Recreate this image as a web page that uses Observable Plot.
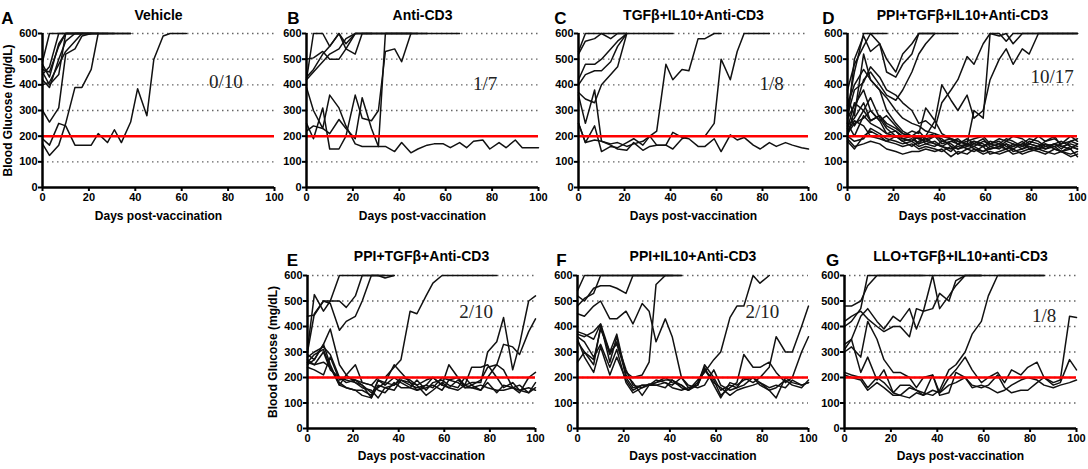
<!DOCTYPE html>
<html><head><meta charset="utf-8">
<script src="https://cdn.jsdelivr.net/npm/d3@7"></script>
<script src="https://cdn.jsdelivr.net/npm/@observablehq/plot@0.6"></script>
<style>
body{margin:0;background:#fff;}
#chart{position:relative;width:1088px;height:469px;overflow:hidden;background:#fff;}
#chart svg{position:absolute;overflow:visible;}
</style></head><body><div id="chart"></div>
<script>
// measurement days (twice weekly)
const days = [0,3,7,10,14,17,21,24,28,31,34,38,41,45,48,52,55,59,62,66,69,72,76,79,83,86,90,93,97,100];
const yTicks = [0,100,200,300,400,500,600];
const xTicks = [0,20,40,60,80,100];
const gridLevels = [100,200,300,400,500,600];
const thresholdLevel = [200];

// A: Vehicle
const vehicle = [
  [490,600,600,600,600,600,600,600,600,600,600,600],
  [480,430,560,600,600,600],
  [460,450,550,600,600,600,600,600],
  [420,390,500,570,600,600,600],
  [400,410,480,530,570,600,600],
  [440,470,600,600,600,600,600,600,600,600],
  [300,255,310,520,540,590,600,600],
  [190,165,250,240,165,165,165,210,175,225,175,255,385,280,500,590,600,600,600],
  [170,125,165,250,390,390,460,600,600,600,600,600],
  [450,400,440,600,600,600,600,600,600]
];
// B: Anti-CD3
const antiCD3 = [
  [420,600,600,550,600,540,520,600,600,600,600,600,600,600,600],
  [500,505,530,500,500,540,600,600,600],
  [430,460,520,550,600,560,600,600,600,600,600,600,600,600],
  [420,450,490,520,540,580,600,600,600,600,600,600,600,600,600,600,600,600,600,600],
  [390,300,230,360,310,240,170,160,160,160,160,140,175,135,150,165,170,170,155,175,155,180,185,150,175,155,185,155,155,155],
  [250,190,310,150,150,200,360,270,260,300,530,540,490,600,600,600],
  [220,240,230,210,265,230,190,350,230,160,600,600,600,600]
];
// C: TGFβ+IL10+Anti-CD3
const tgfIl10 = [
  [530,600,600,600,600,600,600,600,600,600,600,600,600],
  [520,570,580,600,580,600,600],
  [420,480,480,500,540,570,600],
  [400,440,455,455,490,550,600],
  [370,345,330,400,440,470,600],
  [250,175,240,140,160,155,175,190,165,200,165,165,215,195,190,160,160,190,140,205,185,195,165,150,175,160,175,165,155,150],
  [360,250,380,180,170,175,160,170,180,200,220,480,420,460,455,580,580,600,600],
  [250,175,185,180,165,150,145,175,145,160,165,165,150,190,200,200,200,250,500,420,530,600,600,600,600]
];
// D: PPI+TGFβ+IL10+Anti-CD3
const ppiTgfIl10 = [
  [300,450,600,600,600,600],
  [380,480,550,600,560,500,450,520,560,600,600,600,600,600,600],
  [250,500,590,530,560,450,430,480,520,600,600,600],
  [200,300,420,450,400,360,340,380,450,520,560,600],
  [280,380,410,470,430,380,360,330,300,250,260,230,330,380,420,510,480,560,600,600,570,600,600,600,600,600,600,600,600,600],
  [230,330,300,260,280,240,220,200,220,210,310,260,400,340,300,360,270,300,420,500,540,480,540,520,600,600,600,600,600,600],
  [210,250,270,300,260,210,200,180,190,170,200,260,210,190,180,170,300,270,600,590,600,560,600,600,600,600,600,600,600,600],
  [350,280,520,420,380,300,250,220,200,190,180,170,160,150,160,170,150,140,160,150,170,160,180,150,160,170,150,140,160,150],
  [300,240,300,350,270,230,200,190,180,200,170,160,180,170,150,160,180,170,150,160,150,170,160,180,170,150,160,170,180,170],
  [250,200,280,250,230,210,220,190,200,170,180,200,190,160,150,170,160,180,170,180,160,150,170,190,180,160,170,150,180,190],
  [220,260,240,200,190,180,170,160,170,150,160,150,140,160,130,150,140,160,130,140,150,130,140,150,140,130,150,140,120,130],
  [200,180,190,230,210,190,180,170,180,160,170,180,160,140,170,150,160,140,150,160,170,140,150,160,150,170,160,140,150,120],
  [190,160,170,180,170,150,140,130,140,140,150,140,150,120,140,130,150,130,140,130,140,150,130,140,150,140,130,140,130,140],
  [270,320,380,300,260,280,240,210,200,190,200,210,180,190,170,180,190,200,170,190,180,200,190,170,200,180,190,170,200,180],
  [180,150,200,220,200,180,200,180,160,180,190,170,160,180,170,190,170,160,180,170,190,180,160,170,160,180,200,160,170,160],
  [240,270,330,260,280,250,230,210,200,220,190,200,170,180,190,160,170,190,160,170,150,160,170,160,150,160,170,180,160,150],
  [320,400,460,420,380,350,300,270,250,240,220,210,200,190,180,170,180,160,170,160,180,170,150,170,160,150,170,160,150,170]
];
// E: PPI+TGFβ+Anti-CD3
const ppiTgf = [
  [310,525,460,500,600,600,600,600,600,600,600,600],
  [440,445,500,500,500,475,520,600,600,600,590,600],
  [300,450,500,490,385,420,440,500,600,600,600],
  [250,270,330,390,250,210,250,180,170,200,200,240,270,460,450,520,570,600,600,600,600,600,600,600,600],
  [270,250,300,230,200,180,190,170,140,160,180,170,190,170,160,170,200,170,160,190,170,180,180,300,340,435,230,330,500,520],
  [260,290,310,240,170,160,150,130,120,170,160,150,190,180,150,160,170,150,190,200,160,170,150,200,250,330,320,290,380,430],
  [280,300,320,290,200,190,180,160,150,120,160,170,200,190,170,130,150,180,160,150,170,160,150,180,140,170,160,150,140,180],
  [260,250,260,240,180,160,150,150,130,190,180,250,220,180,170,190,200,170,250,200,170,240,240,250,200,160,180,150,160,150],
  [240,230,210,280,190,200,190,180,170,150,140,180,160,160,150,170,160,200,190,180,160,160,170,160,150,150,160,170,140,160],
  [290,270,330,250,170,210,180,170,120,190,170,200,180,160,190,150,180,190,170,160,200,170,190,240,250,230,160,140,200,220]
];
// F: PPI+IL10+Anti-CD3
const ppiIl10 = [
  [540,600,600,600,600,600,600,600,600,600,600,600,600,600],
  [480,510,530,600,600,600,600,600,600,600,600,600],
  [450,440,480,500,430,430,460,410,490,460,340,430,360,200,170,160,170,230,170,150,160,170,200,180,150,160,190,170,160,190],
  [520,500,550,560,560,550,530,600,600,600,600,600,600],
  [380,370,350,410,300,330,220,200,210,260,565,600,600,600],
  [370,360,380,410,260,360,200,160,170,170,180,190,190,170,150,190,220,270,300,435,480,480,600,570,600],
  [340,300,250,400,290,340,230,170,160,170,190,180,170,200,160,170,250,200,150,170,160,200,180,200,240,360,300,300,400,480],
  [360,340,280,330,240,310,180,140,160,175,170,180,160,150,160,170,230,190,130,160,180,290,240,240,260,220,180,200,300,360],
  [350,280,220,320,210,280,190,150,170,170,170,160,190,160,150,180,240,170,120,180,170,190,200,170,150,120,200,180,170,180],
  [260,300,270,390,300,370,210,180,130,170,180,200,180,170,150,170,230,180,160,130,150,160,170,180,160,170,160,190,170,180]
];
// G: LLO+TGFβ+IL10+anti-CD3
const lloTgfIl10 = [
  [480,480,500,560,600,600,600,600,600,600,600,600,600,600,600,600,600,600,600,600,600,600,600,600,600,600],
  [400,420,470,600,600,600,600,600,600,600,600],
  [420,440,460,430,400,380,400,400,360,470,460,600,470,520,560,600,600,600],
  [330,350,440,470,420,390,440,420,470,390,460,470,530,500,580,600,600,600],
  [310,350,220,280,190,230,140,170,170,150,140,130,150,230,250,300,370,420,520,600,600,600,600,600,600,600],
  [300,320,280,420,350,270,220,220,200,160,200,210,140,200,230,280,230,180,200,220,180,230,210,240,260,200,180,190,440,435],
  [220,210,200,160,200,180,140,130,160,150,130,150,140,170,180,200,160,170,160,140,150,170,190,200,190,170,160,170,180,190],
  [210,200,190,150,180,160,130,130,120,140,130,210,130,140,220,200,170,160,170,210,160,140,150,150,180,200,170,180,270,230]
];

const letters = ["A","B","C","D","E","F","G"];
const titles = ["Vehicle","Anti-CD3","TGFβ+IL10+Anti-CD3","PPI+TGFβ+IL10+Anti-CD3","PPI+TGFβ+Anti-CD3","PPI+IL10+Anti-CD3","LLO+TGFβ+IL10+anti-CD3"];
const ratios = ["0/10","1/7","1/8","10/17","2/10","2/10","1/8"];
const groups = [vehicle, antiCD3, tgfIl10, ppiTgfIl10, ppiTgf, ppiIl10, lloTgfIl10];

// layout (pixel placement of each panel's frame)
const layout = [
  {row:0, x0:42,  x1:274,  letterDx:-35, ratioAt:[79,410], yLabel:true},
  {row:0, x0:306, x1:538,  letterDx:-13, ratioAt:[77,405], yLabel:false},
  {row:0, x0:578, x1:808,  letterDx:-18, ratioAt:[84,405], yLabel:false},
  {row:0, x0:847, x1:1077, letterDx:-19, ratioAt:[89,430], yLabel:false},
  {row:1, x0:307, x1:535,  letterDx:-15, ratioAt:[74,459], yLabel:true},
  {row:1, x0:577, x1:808,  letterDx:-16, ratioAt:[80,459], yLabel:false},
  {row:1, x0:844, x1:1076, letterDx:-12, ratioAt:[86,443], yLabel:false}
];

const chart = document.getElementById("chart");
const sans = "'Liberation Sans', Arial, Helvetica, sans-serif";

layout.forEach((L, k) => {
  const rows = groups[k].flatMap((vals, m) => vals.map((g, i) => ({mouse: m, day: days[i], glucose: g})));
  const top = L.row === 0 ? 0 : 242;
  const mt = 33, ph = L.row === 0 ? 154 : 153, mb = L.row === 0 ? 48 : 41;
  const ml = 42, mr = 10;
  const marks = [
    Plot.ruleY(gridLevels, {stroke: "#666", strokeWidth: 1.4, strokeDasharray: "1.5,3.5"}),
    Plot.line(rows, {x: "day", y: "glucose", z: "mouse", stroke: "#111", strokeWidth: 1.5}),
    Plot.ruleY(thresholdLevel, {stroke: "#ff0000", strokeWidth: 2.5}),
    Plot.ruleX([0], {y1: 0, y2: 600, stroke: "#000", strokeWidth: 2.5}),
    Plot.ruleY([0], {x1: 0, x2: 100, stroke: "#000", strokeWidth: 2.5}),
    Plot.axisX({ticks: xTicks, tickSize: 4, tickPadding: 2, strokeWidth: 2, label: null, fontWeight: "bold", fontSize: 11}),
    Plot.axisY({ticks: yTicks, tickSize: 4, tickPadding: 1, strokeWidth: 2, label: null, fontWeight: "bold", fontSize: 11}),
    Plot.text([titles[k]], {text: d => d, frameAnchor: "top", dy: L.row === 0 ? -23 : -24, fontSize: 14, fontWeight: "bold"}),
    Plot.text([letters[k]], {text: d => d, frameAnchor: "top-left", dx: L.letterDx, dy: -22, fontSize: 17, fontWeight: "bold", textAnchor: "middle"}),
    Plot.text(["Days post-vaccination"], {text: d => d, frameAnchor: "bottom", dy: L.row === 0 ? 32 : 31, fontSize: 12, fontWeight: "bold"}),
    Plot.text([ratios[k]], {text: d => d, x: L.ratioAt[0], y: L.ratioAt[1], fontFamily: "'Liberation Serif', 'Times New Roman', serif", fontSize: 19, fontWeight: "normal", fill: "#222"})
  ];
  if (L.yLabel) marks.push(Plot.text(["Blood Glucose (mg/dL)"], {text: d => d, frameAnchor: "left", dx: -34, rotate: -90, textAnchor: "middle", fontSize: 12, fontWeight: "bold"}));
  const svg = Plot.plot({
    width: ml + (L.x1 - L.x0) + mr,
    height: mt + ph + mb,
    marginLeft: ml, marginRight: mr, marginTop: mt, marginBottom: mb,
    x: {domain: [0, 100]},
    y: {domain: [0, 600]},
    style: {background: "transparent", fontFamily: sans, fontSize: "11px", color: "#000", overflow: "visible"},
    marks
  });
  svg.style.left = (L.x0 - ml) + "px";
  svg.style.top = top + "px";
  chart.appendChild(svg);
});
</script></body></html>
